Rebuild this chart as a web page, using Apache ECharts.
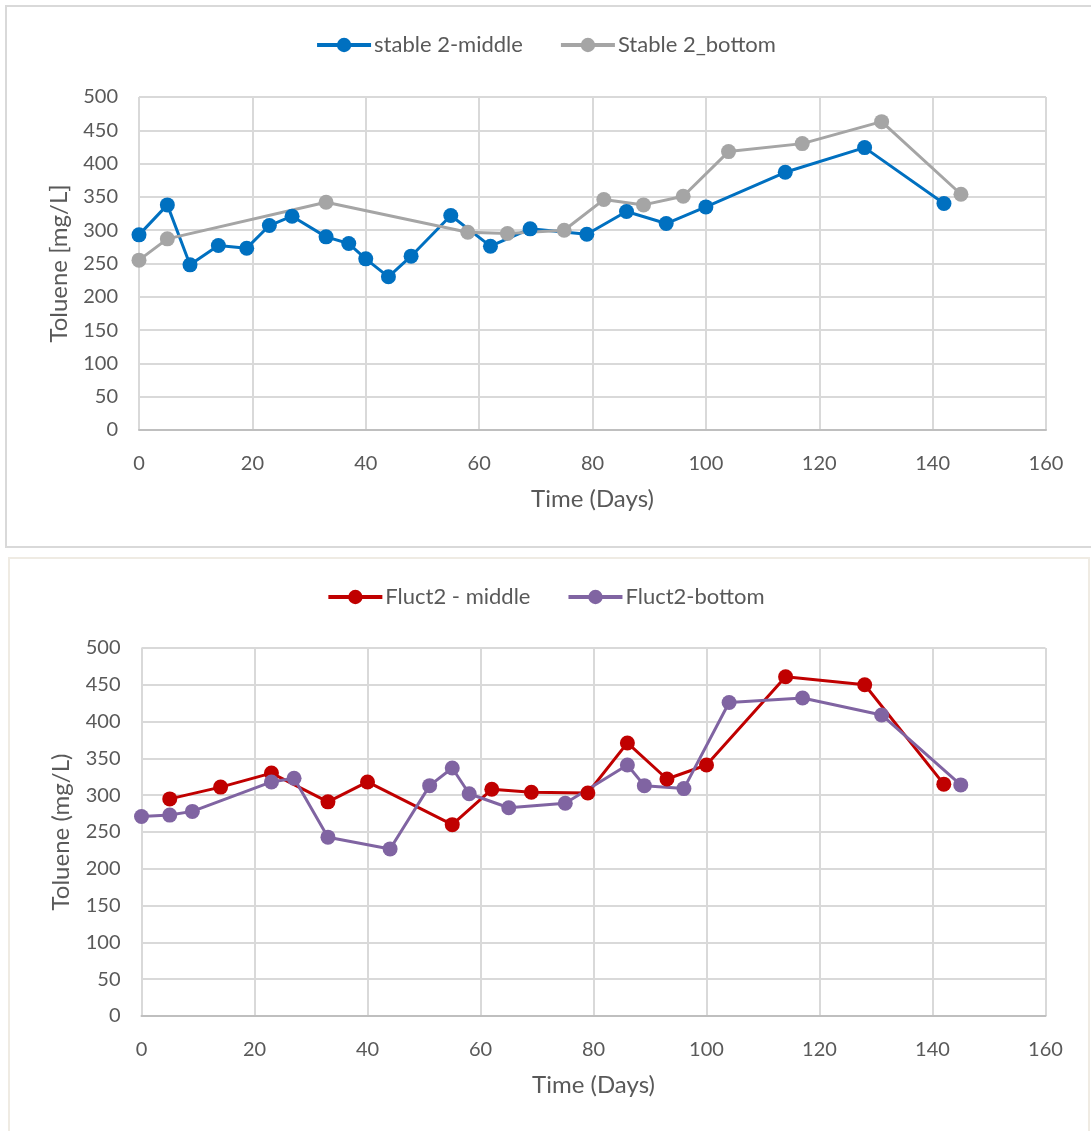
<!DOCTYPE html>
<html>
<head>
<meta charset="utf-8">
<script src="https://cdn.jsdelivr.net/npm/echarts@6/dist/echarts.min.js"></script>
<style>
  html, body { margin: 0; padding: 0; background: #fff; }
  #chart { width: 1091px; height: 1131px; }
</style>
</head>
<body>
<div id="chart"></div>
<script>
// Toluene concentration over time, stable and fluctuating columns
const xTicks = [0, 20, 40, 60, 80, 100, 120, 140, 160];
const yTicks = [0, 50, 100, 150, 200, 250, 300, 350, 400, 450, 500];

const stableMiddleDays = [0, 5, 9, 14, 19, 23, 27, 33, 37, 40, 44, 48, 55, 62, 69, 79, 86, 93, 100, 114, 128, 142];
const stableMiddleVals = [293, 338, 248, 277, 273, 307, 321, 290, 280, 257, 230, 261, 322, 276, 302, 294, 328, 310, 335, 387, 424, 340];

const stableBottomDays = [0, 5, 33, 58, 65, 75, 82, 89, 96, 104, 117, 131, 145];
const stableBottomVals = [255, 287, 342, 297, 295, 300, 346, 338, 351, 418, 430, 463, 354];

const fluctMiddleDays = [5, 14, 23, 33, 40, 55, 62, 69, 79, 86, 93, 100, 114, 128, 142];
const fluctMiddleVals = [295, 311, 330, 291, 318, 260, 308, 304, 303, 371, 322, 341, 461, 450, 315];

const fluctBottomDays = [0, 5, 9, 23, 27, 33, 44, 51, 55, 58, 65, 75, 86, 89, 96, 104, 117, 131, 145];
const fluctBottomVals = [271, 273, 278, 318, 323, 243, 227, 313, 337, 302, 283, 289, 341, 313, 309, 426, 432, 409, 314];

const pairs = (xs, ys) => xs.map((x, i) => [x, ys[i]]);

const FONT = 'Lato, "Open Sans", sans-serif';
const TEXT = '#595959';

function xAxisFor(gridIndex) {
  return {
    type: 'value', gridIndex,
    min: xTicks[0], max: xTicks[xTicks.length - 1], interval: xTicks[1] - xTicks[0],
    name: 'Time (Days)', nameLocation: 'middle', nameGap: 57,
    nameTextStyle: { fontFamily: FONT, fontSize: 24, color: TEXT },
    axisLine: { show: true, lineStyle: { color: '#bfbfbf', width: 2 } },
    axisTick: { show: false },
    axisLabel: { fontFamily: FONT, fontSize: 20, color: TEXT, margin: 24 },
    splitLine: { show: true, lineStyle: { color: '#d9d9d9', width: 2 } }
  };
}

function yAxisFor(gridIndex, title) {
  return {
    type: 'value', gridIndex,
    min: yTicks[0], max: yTicks[yTicks.length - 1], interval: yTicks[1] - yTicks[0],
    name: title, nameLocation: 'middle', nameGap: 68,
    nameTextStyle: { fontFamily: FONT, fontSize: 24, color: TEXT },
    axisLine: { show: false },
    axisTick: { show: false },
    axisLabel: { fontFamily: FONT, fontSize: 20, color: TEXT, margin: 21 },
    splitLine: { show: true, lineStyle: { color: '#d9d9d9', width: 2 } }
  };
}

function lineSeries(name, color, data, idx) {
  return {
    name, type: 'line', xAxisIndex: idx, yAxisIndex: idx,
    data, symbol: 'circle', symbolSize: 15, showSymbol: true,
    lineStyle: { color, width: 3 },
    itemStyle: { color },
    z: 3, animation: false
  };
}

const legendCommon = {
  itemWidth: 54, itemHeight: 18, itemGap: 36,
  lineStyle: { width: 4 },
  textStyle: { fontFamily: FONT, fontSize: 22, color: TEXT, padding: [0, 0, 0, -2] }
};

const chart = echarts.init(document.getElementById('chart'), null, { renderer: 'canvas' });
chart.setOption({
  backgroundColor: '#ffffff',
  animation: false,
  graphic: [
    { type: 'rect', shape: { x: 6, y: 6, width: 1100, height: 541 }, style: { fill: 'none', stroke: '#d9d9d9', lineWidth: 2 }, z: -1 },
    { type: 'rect', shape: { x: 9, y: 558, width: 1080, height: 600 }, style: { fill: 'none', stroke: '#efebe3', lineWidth: 2 }, z: -1 }
  ],
  legend: [
    Object.assign({ data: ['stable 2-middle', 'Stable 2_bottom'], left: 'center', top: 29 }, legendCommon),
    Object.assign({ data: ['Fluct2 - middle', 'Fluct2-bottom'], left: 'center', top: 581 }, legendCommon)
  ],
  grid: [
    { left: 139, width: 907, top: 97, height: 333 },
    { left: 141.5, width: 904, top: 648, height: 368 }
  ],
  xAxis: [xAxisFor(0), xAxisFor(1)],
  yAxis: [yAxisFor(0, 'Toluene [mg/L]'), yAxisFor(1, 'Toluene (mg/L)')],
  series: [
    lineSeries('stable 2-middle', '#0070C0', pairs(stableMiddleDays, stableMiddleVals), 0),
    lineSeries('Stable 2_bottom', '#A5A5A5', pairs(stableBottomDays, stableBottomVals), 0),
    lineSeries('Fluct2 - middle', '#C00000', pairs(fluctMiddleDays, fluctMiddleVals), 1),
    lineSeries('Fluct2-bottom', '#8064A2', pairs(fluctBottomDays, fluctBottomVals), 1)
  ]
});
</script>
</body>
</html>
